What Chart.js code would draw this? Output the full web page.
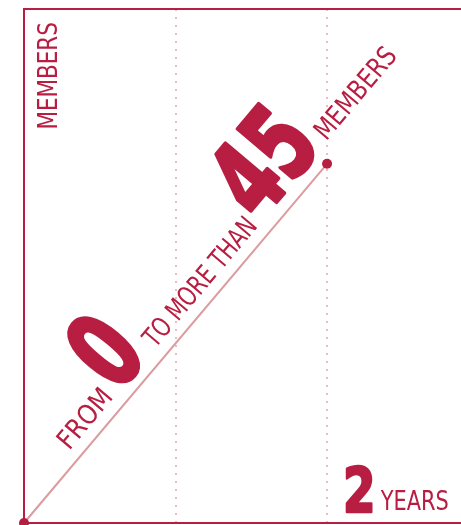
<!DOCTYPE html>
<html>
<head>
<meta charset="utf-8">
<script src="https://cdn.jsdelivr.net/npm/chart.js@4"></script>
<style>
  body { margin: 0; background: #fff; }
</style>
</head>
<body>
<canvas id="chart" width="461" height="525"></canvas>
<script>
// data
const years = [0, 2];
const members = [0, 45];
const phrase = ['FROM', '0', 'TO MORE THAN', '45', 'MEMBERS'];
const yTitle = 'MEMBERS';
const spanValue = '2';
const spanUnit = 'YEARS';

const red = '#b71e42';
const narrow = '"Liberation Sans Narrow", "DejaVu Sans Condensed", "Arial Narrow", sans-serif';

// draw text so its ink fills the box a0..a1 (along x) and b0..b1 (upwards)
// w = extra stroke thickness in px, for the heavy numbers
function fitInk(ctx, text, a0, a1, b0, b1, font, w = 0) {
    ctx.save();
    ctx.font = font;
    const m = ctx.measureText(text);
    const left = m.actualBoundingBoxLeft, right = m.actualBoundingBoxRight;
    const asc = m.actualBoundingBoxAscent, desc = m.actualBoundingBoxDescent;
    const sx = (a1 - a0 - w) / (left + right);
    const sy = (b1 - b0) / (asc + desc + w / sx);
    const padY = w * sy / (2 * sx);
    ctx.translate(a0 + w / 2, -(b0 + padY));
    ctx.scale(sx, sy);
    ctx.fillText(text, left, -desc);
    if (w) {
        ctx.strokeStyle = ctx.fillStyle;
        ctx.lineJoin = 'round';
        ctx.lineWidth = w / sx;
        ctx.strokeText(text, left, -desc);
    }
    ctx.restore();
}

const labelsPlugin = {
    id: 'labels',
    afterDatasetsDraw(chart) {
        const ctx = chart.ctx;
        const xs = chart.scales.x, ys = chart.scales.y;
        const p0 = { x: xs.getPixelForValue(years[0]), y: ys.getPixelForValue(members[0]) };
        const p1 = { x: xs.getPixelForValue(years[1]), y: ys.getPixelForValue(members[1]) };
        const angle = Math.atan2(p1.y - p0.y, p1.x - p0.x);

        ctx.save();
        ctx.fillStyle = red;
        ctx.textBaseline = 'alphabetic';

        // ink boxes along the line: from, to, bottom offset, top offset, bold
        const slots = [
            [86, 152, 12, 32, false],
            [161, 207, 9, 94, true],
            [217, 376, 12, 32, false],
            [383, 478, 11, 93, true],
            [488, 597, 15, 35, false]
        ];
        ctx.save();
        ctx.translate(p0.x, p0.y);
        ctx.rotate(angle);
        phrase.forEach((t, i) => {
            const [a0, a1, b0, b1, bold] = slots[i];
            fitInk(ctx, t, a0, a1, b0, b1, (bold ? 'bold 100px ' : '30px ') + narrow, bold ? 3 : 0);
        });
        ctx.restore();

        // vertical members title
        ctx.save();
        ctx.translate(57, 128);
        ctx.rotate(-Math.PI / 2);
        fitInk(ctx, yTitle, 0, 105, 0, 20, '30px ' + narrow);
        ctx.restore();

        // 2 YEARS
        fitInk(ctx, spanValue, 345, 373, -513, -465, 'bold 70px ' + narrow, 2);
        fitInk(ctx, spanUnit, 380, 448, -510, -491, '30px ' + narrow);
        ctx.restore();
    }
};

new Chart(document.getElementById('chart'), {
    type: 'line',
    data: {
        datasets: [{
            data: years.map((x, i) => ({ x: x, y: members[i] })),
            borderColor: '#dc9c9f',
            borderWidth: 2,
            pointRadius: 5,
            pointBackgroundColor: red,
            pointBorderWidth: 0,
            clip: false
        }]
    },
    options: {
        responsive: false,
        animation: false,
        layout: { autoPadding: false, padding: { left: 24, top: 9, right: 0, bottom: 2 } },
        plugins: {
            legend: { display: false },
            tooltip: { enabled: false }
        },
        scales: {
            x: {
                type: 'linear',
                min: 0,
                max: 2.884,
                ticks: { display: false, stepSize: 1 },
                grid: {
                    drawTicks: false,
                    lineWidth: 2,
                    color: c => (c.tick && (c.tick.value === 1 || c.tick.value === 2)) ? '#ecbcc1' : 'rgba(0,0,0,0)'
                },
                border: { color: red, width: 2, dash: [2, 6] }
            },
            xTop: {
                type: 'linear',
                position: 'top',
                min: 0,
                max: 2.884,
                ticks: { display: false },
                grid: { display: false, drawTicks: false },
                border: { color: red, width: 2 }
            },
            y: {
                min: 0,
                max: 64.4,
                ticks: { display: false },
                grid: { display: false, drawTicks: false },
                border: { color: red, width: 2 }
            }
        }
    },
    plugins: [labelsPlugin]
});
</script>
</body>
</html>
